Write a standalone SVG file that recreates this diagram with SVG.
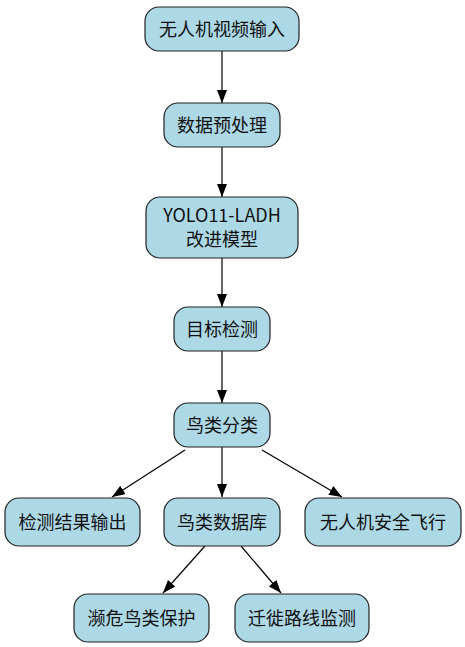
<svg xmlns="http://www.w3.org/2000/svg" width="465" height="647" viewBox="0 0 465 647">
<style>
.n rect{fill:#add8e6;stroke:#222;stroke-width:1.2}
.n text{font-family:"Noto Sans CJK SC","Noto Sans",sans-serif;font-size:18px;fill:#111;text-anchor:middle}
.e line{stroke:#000;stroke-width:1.2;marker-end:url(#a)}
</style>
<defs>
<marker id="a" viewBox="0 0 13 10" refX="13" refY="5" markerWidth="13" markerHeight="10" markerUnits="userSpaceOnUse" orient="auto">
<path d="M0,0 L13,5 L0,10 Z" fill="#000"/>
</marker>
</defs>
<rect width="465" height="647" fill="#fff"/>
<g class="e">
<line x1="222" y1="51" x2="222" y2="103"/>
<line x1="222" y1="147" x2="222" y2="197"/>
<line x1="222" y1="258" x2="222" y2="307"/>
<line x1="222" y1="351" x2="222" y2="403"/>
<line x1="185" y1="450" x2="112" y2="497"/>
<line x1="222" y1="447" x2="222" y2="497"/>
<line x1="262" y1="450" x2="342" y2="497"/>
<line x1="205" y1="546" x2="163" y2="593"/>
<line x1="241" y1="546" x2="281" y2="593"/>
</g>
<g id="n1" class="n"><rect x="145" y="7" width="154" height="44" rx="14"/><text x="222" y="36">无人机视频输入</text></g>
<g id="n2" class="n"><rect x="164" y="103" width="116" height="44" rx="14"/><text x="222" y="132">数据预处理</text></g>
<g id="n3" class="n"><rect x="146" y="197" width="152" height="61" rx="14"/><text x="222" y="222">YOLO11-LADH</text><text x="222" y="246">改进模型</text></g>
<g id="n4" class="n"><rect x="174" y="307" width="96" height="44" rx="14"/><text x="222" y="336">目标检测</text></g>
<g id="n5" class="n"><rect x="174" y="403" width="96" height="44" rx="14"/><text x="222" y="432">鸟类分类</text></g>
<g id="n6" class="n"><rect x="5" y="498" width="135" height="48" rx="14"/><text x="72.5" y="529">检测结果输出</text></g>
<g id="n7" class="n"><rect x="164" y="498" width="116" height="48" rx="14"/><text x="222" y="529">鸟类数据库</text></g>
<g id="n8" class="n"><rect x="305" y="498" width="156" height="48" rx="14"/><text x="383" y="529">无人机安全飞行</text></g>
<g id="n9" class="n"><rect x="74" y="594" width="135" height="48" rx="14"/><text x="141.5" y="625">濒危鸟类保护</text></g>
<g id="n10" class="n"><rect x="235" y="594" width="134" height="48" rx="14"/><text x="302" y="625">迁徙路线监测</text></g>
</svg>
